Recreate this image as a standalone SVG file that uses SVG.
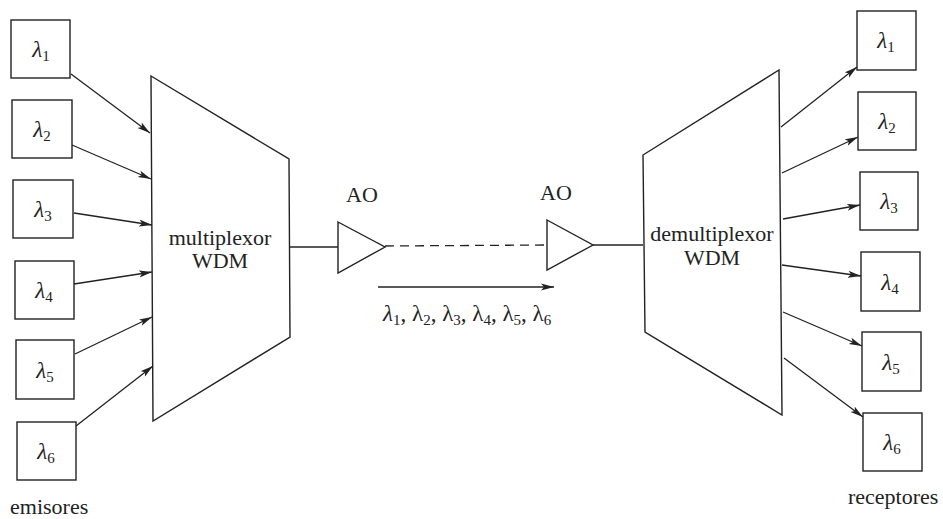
<svg xmlns="http://www.w3.org/2000/svg" width="943" height="519" viewBox="0 0 943 519">
<style>
.bx{fill:#fff;stroke:#222;stroke-width:1.4}
.sh{fill:#fff;stroke:#222;stroke-width:1.4;stroke-linejoin:miter}
.ln{fill:none;stroke:#222;stroke-width:1.3}
.ar{fill:none;stroke:#222;stroke-width:1.3;marker-end:url(#ah)}
.dash{fill:none;stroke:#222;stroke-width:1.3;stroke-dasharray:9 6}
.t{font-family:"Liberation Serif","Times New Roman",serif;font-size:22px;fill:#222}
.lam{font-family:"Liberation Serif","Times New Roman",serif;font-size:23px;font-style:italic;fill:#222}
.sub{font-size:15px;font-style:normal}
.n{font-style:normal}
</style>
<defs>
<marker id="ah" markerUnits="userSpaceOnUse" markerWidth="14" markerHeight="8" refX="13" refY="4" orient="auto">
<path d="M0,0.5 L13,4 L0,7.5 L3,4 z" fill="#222"/>
</marker>
</defs>
<rect width="943" height="519" fill="#fff"/>

<g id="emisor1"><rect class="bx" x="11" y="20" width="59" height="58"/><text class="lam" x="41" y="57" text-anchor="middle">λ<tspan class="sub" dy="4">1</tspan></text></g>
<g id="emisor2"><rect class="bx" x="12" y="100" width="60" height="58"/><text class="lam" x="42" y="137" text-anchor="middle">λ<tspan class="sub" dy="4">2</tspan></text></g>
<g id="emisor3"><rect class="bx" x="13" y="180" width="60" height="58"/><text class="lam" x="43" y="217" text-anchor="middle">λ<tspan class="sub" dy="4">3</tspan></text></g>
<g id="emisor4"><rect class="bx" x="15" y="261" width="59" height="58"/><text class="lam" x="44" y="298" text-anchor="middle">λ<tspan class="sub" dy="4">4</tspan></text></g>
<g id="emisor5"><rect class="bx" x="16" y="340" width="58" height="59"/><text class="lam" x="45" y="378" text-anchor="middle">λ<tspan class="sub" dy="4">5</tspan></text></g>
<g id="emisor6"><rect class="bx" x="17" y="422" width="59" height="58"/><text class="lam" x="46" y="459" text-anchor="middle">λ<tspan class="sub" dy="4">6</tspan></text></g>

<g id="multiplexor">
<polygon class="sh" points="151,76 289,159 290,337 153,421"/>
<text class="t" x="220" y="245" text-anchor="middle">multiplexor</text>
<text class="t" x="220" y="268" text-anchor="middle">WDM</text>
</g>

<g id="ao1">
<polygon class="sh" points="338,222 385,247 338,273"/>
<text class="t" x="362" y="202" text-anchor="middle">AO</text>
</g>
<g id="ao2">
<polygon class="sh" points="547,220 593,245 547,270"/>
<text class="t" x="556" y="200" text-anchor="middle">AO</text>
</g>

<g id="demultiplexor">
<polygon class="sh" points="643,155 779,70 782,415 645,332"/>
<text class="t" x="712" y="241" text-anchor="middle">demultiplexor</text>
<text class="t" x="712" y="265" text-anchor="middle">WDM</text>
</g>

<g id="receptor1"><rect class="bx" x="857" y="11" width="59" height="59"/><text class="lam" x="886" y="48" text-anchor="middle">λ<tspan class="sub" dy="4">1</tspan></text></g>
<g id="receptor2"><rect class="bx" x="858" y="92" width="58" height="58"/><text class="lam" x="887" y="129" text-anchor="middle">λ<tspan class="sub" dy="4">2</tspan></text></g>
<g id="receptor3"><rect class="bx" x="860" y="172" width="58" height="58"/><text class="lam" x="889" y="209" text-anchor="middle">λ<tspan class="sub" dy="4">3</tspan></text></g>
<g id="receptor4"><rect class="bx" x="861" y="252" width="59" height="59"/><text class="lam" x="890" y="290" text-anchor="middle">λ<tspan class="sub" dy="4">4</tspan></text></g>
<g id="receptor5"><rect class="bx" x="862" y="332" width="59" height="59"/><text class="lam" x="891" y="370" text-anchor="middle">λ<tspan class="sub" dy="4">5</tspan></text></g>
<g id="receptor6"><rect class="bx" x="863" y="413" width="59" height="58"/><text class="lam" x="892" y="450" text-anchor="middle">λ<tspan class="sub" dy="4">6</tspan></text></g>

<g id="connectors">
<line class="ar" x1="71" y1="74" x2="150" y2="133"/>
<line class="ar" x1="72" y1="145" x2="151" y2="179"/>
<line class="ar" x1="74" y1="213" x2="152" y2="225"/>
<line class="ar" x1="74" y1="284" x2="152" y2="272"/>
<line class="ar" x1="75" y1="354" x2="152" y2="317"/>
<line class="ar" x1="76" y1="426" x2="153" y2="366"/>
<line class="ln" x1="290" y1="247" x2="338" y2="247"/>
<line class="dash" x1="385" y1="246" x2="547" y2="245"/>
<line class="ln" x1="593" y1="245" x2="643" y2="245"/>
<line class="ar" x1="378" y1="287" x2="554" y2="287"/>
<line class="ar" x1="781" y1="127" x2="857" y2="67"/>
<line class="ar" x1="782" y1="173" x2="858" y2="137"/>
<line class="ar" x1="783" y1="219" x2="860" y2="205"/>
<line class="ar" x1="782" y1="265" x2="861" y2="276"/>
<line class="ar" x1="783" y1="312" x2="862" y2="346"/>
<line class="ar" x1="784" y1="358" x2="863" y2="417"/>
</g>

<text class="lam" x="383" y="321">λ<tspan class="sub" dy="4">1</tspan><tspan class="n" dy="-4">, λ</tspan><tspan class="sub" dy="4">2</tspan><tspan class="n" dy="-4">, λ</tspan><tspan class="sub" dy="4">3</tspan><tspan class="n" dy="-4">, λ</tspan><tspan class="sub" dy="4">4</tspan><tspan class="n" dy="-4">, λ</tspan><tspan class="sub" dy="4">5</tspan><tspan class="n" dy="-4">, λ</tspan><tspan class="sub" dy="4">6</tspan></text>

<text class="t" x="10" y="514">emisores</text>
<text class="t" x="848" y="504">receptores</text>
</svg>
